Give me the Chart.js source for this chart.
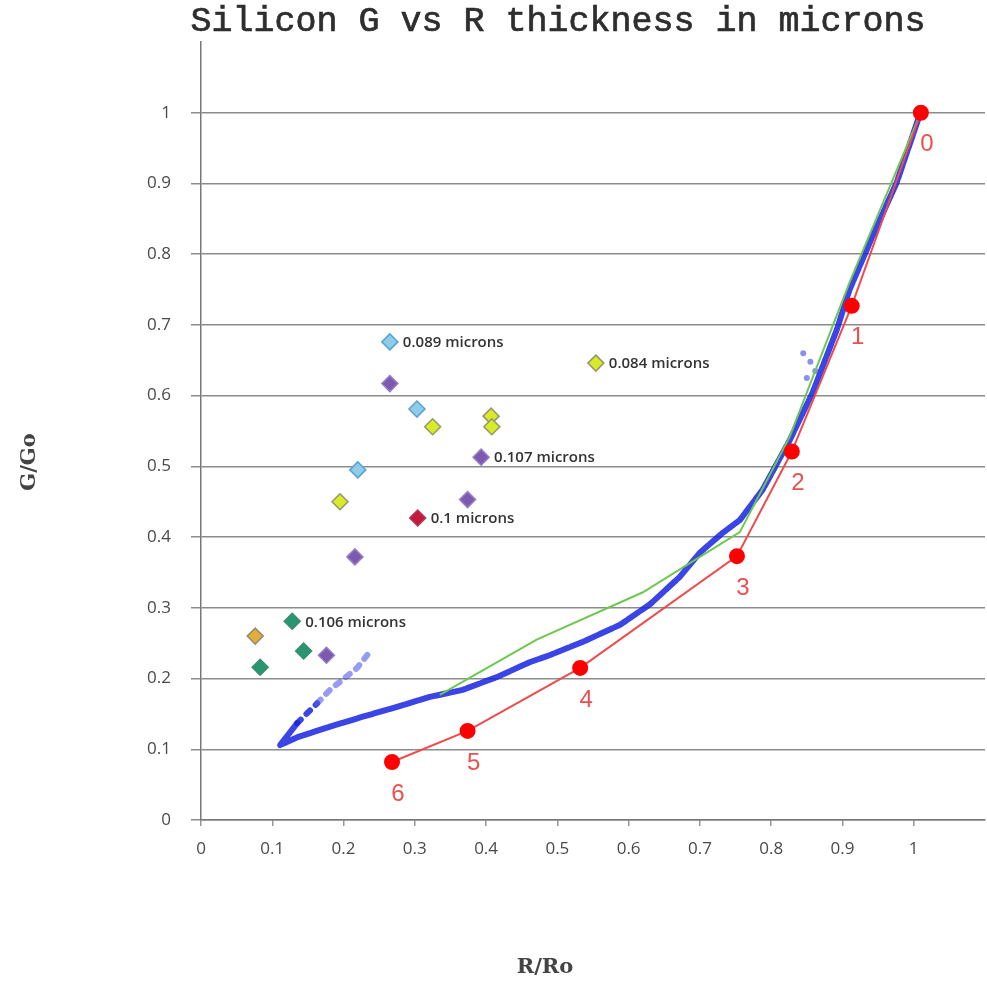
<!DOCTYPE html>
<html>
<head>
<meta charset="utf-8">
<script src="https://cdn.jsdelivr.net/npm/chart.js@4"></script>
<style>
  html, body { margin: 0; padding: 0; background: #fff; overflow: hidden; }
  #wrap { width: 987px; height: 986px; }
  canvas { display: block; }
</style>
</head>
<body>
<div id="wrap"><canvas id="chart-1" width="987" height="986"></canvas></div>
<script>
// Silicon G vs R

// measured curve (blue), from top right down to the tip then the small hook
const blueX = [1.006, 0.976, 0.942, 0.910, 0.892, 0.858, 0.826, 0.788, 0.756, 0.732, 0.700, 0.672, 0.630, 0.588, 0.536, 0.489, 0.461, 0.415, 0.367, 0.321, 0.275, 0.227, 0.181, 0.135, 0.111, 0.135, 0.163, 0.181, 0.219, 0.237];
const blueY = [0.990, 0.901, 0.825, 0.750, 0.693, 0.604, 0.537, 0.467, 0.424, 0.406, 0.378, 0.344, 0.305, 0.276, 0.252, 0.233, 0.223, 0.202, 0.184, 0.174, 0.160, 0.146, 0.132, 0.117, 0.106, 0.137, 0.165, 0.184, 0.215, 0.238];
const blueTip = 24;
const blueStrayX = [0.845, 0.855, 0.862, 0.850];
const blueStrayY = [0.660, 0.648, 0.635, 0.625];

// green model line
const greenX = [0.335, 0.471, 0.620, 0.756, 0.826, 0.910, 1.010];
const greenY = [0.177, 0.255, 0.322, 0.407, 0.542, 0.760, 1.000];

// red numbered points
const redX = [1.010, 0.913, 0.829, 0.752, 0.532, 0.374, 0.268];
const redY = [1.000, 0.727, 0.521, 0.373, 0.215, 0.126, 0.082];
const redLabels = ['0', '1', '2', '3', '4', '5', '6'];

// thickness series (diamonds)
const lightBlueX = [0.265, 0.303, 0.220];
const lightBlueY = [0.676, 0.581, 0.495];
const purpleX = [0.265, 0.393, 0.374, 0.216, 0.176];
const purpleY = [0.617, 0.513, 0.453, 0.372, 0.233];
const yellowX = [0.554, 0.407, 0.408, 0.325, 0.195];
const yellowY = [0.646, 0.571, 0.556, 0.556, 0.450];
const crimsonX = [0.304];
const crimsonY = [0.427];
const tealX = [0.128, 0.083, 0.144];
const tealY = [0.281, 0.216, 0.239];
const orangeX = [0.076];
const orangeY = [0.260];

const seriesNames = ['0.089 microns', '0.107 microns', '0.084 microns', '0.1 microns', '0.106 microns', ''];

const xTicks = [0, 0.1, 0.2, 0.3, 0.4, 0.5, 0.6, 0.7, 0.8, 0.9, 1];
const yTicks = [0, 0.1, 0.2, 0.3, 0.4, 0.5, 0.6, 0.7, 0.8, 0.9, 1];

function pts(xs, ys) {
    return xs.map(function(x, i) { return {x: x, y: ys[i]}; });
}

function diamond(label, xs, ys, fill, border) {
    return {
        label: label,
        data: pts(xs, ys),
        showLine: false,
        pointStyle: 'rectRot',
        pointRadius: 8,
        pointBackgroundColor: fill,
        pointBorderColor: border,
        pointBorderWidth: 1.5
    };
}

// no extra margins from the scales, the plot box is set by hand
function noPadding() {
    return {left: 0, right: 0, top: 0, bottom: 0};
}

// texts that sit outside the plot
const textPlugin = {
    id: 'texts',
    afterDraw: function(chart) {
        const c = chart.ctx;
        c.save();
        c.fillStyle = '#2e2e2e';
        c.strokeStyle = '#2e2e2e';
        c.lineWidth = 0.7;
        c.textAlign = 'center';
        c.textBaseline = 'middle';
        c.font = '35px "Liberation Mono"';
        c.fillText('Silicon G vs R thickness in microns', 558, 22);
        c.strokeText('Silicon G vs R thickness in microns', 558, 22);

        c.font = 'bold 21px "DejaVu Serif"';
        c.fillStyle = '#444';
        c.fillText('R/Ro', 545, 968);

        c.translate(30, 462);
        c.rotate(-Math.PI / 2);
        c.fillText('G/Go', 0, 0);
        c.restore();
    }
};

// numbers under the red points and the names next to the diamonds
const labelPlugin = {
    id: 'pointLabels',
    afterDatasetsDraw: function(chart) {
        const c = chart.ctx;
        c.save();
        const red = chart.getDatasetMeta(0);
        c.font = '24px "Liberation Sans"';
        c.fillStyle = 'rgb(235, 80, 80)';
        c.textAlign = 'center';
        c.textBaseline = 'middle';
        red.data.forEach(function(el, i) {
            c.fillText(redLabels[i], el.x + 6, el.y + 32);
        });

        c.font = '600 15px "Open Sans"';
        c.fillStyle = '#333';
        c.textAlign = 'left';
        const named = [[1, 0], [2, 1], [3, 0], [4, 0], [5, 0]];
        named.forEach(function(n, k) {
            const el = chart.getDatasetMeta(n[0]).data[n[1]];
            if (seriesNames[k]) {
                c.fillText(seriesNames[k], el.x + 13, el.y + 1);
            }
        });
        c.restore();
    }
};

const gridCol = function(ctx) {
    return ctx.tick && ctx.tick.value > 1.05 ? 'rgba(0,0,0,0)' : 'rgb(140,140,140)';
};

const chart1 = new Chart(document.getElementById('chart-1'), {
    type: 'scatter',
    data: {
        datasets: [
            {
                label: 'steps',
                data: pts(redX, redY),
                showLine: true,
                borderColor: 'rgb(240, 75, 75)',
                borderWidth: 2,
                pointRadius: 7,
                pointBackgroundColor: 'rgb(255, 0, 0)',
                pointBorderColor: 'rgb(255, 0, 0)'
            },
            diamond('0.089', lightBlueX, lightBlueY, 'rgb(140, 205, 235)', 'rgb(95, 160, 205)'),
            diamond('0.107', purpleX, purpleY, 'rgb(125, 90, 175)', 'rgb(150, 125, 195)'),
            diamond('0.084', yellowX, yellowY, 'rgb(215, 235, 40)', 'rgb(150, 150, 110)'),
            diamond('0.1', crimsonX, crimsonY, 'rgb(200, 25, 60)', 'rgb(170, 60, 90)'),
            diamond('0.106', tealX, tealY, 'rgb(40, 150, 110)', 'rgb(60, 140, 115)'),
            diamond('other', orangeX, orangeY, 'rgb(225, 175, 55)', 'rgb(150, 140, 120)'),
            {
                label: 'model',
                data: pts(greenX, greenY),
                showLine: true,
                borderColor: 'rgb(110, 200, 80)',
                borderWidth: 2,
                pointRadius: 0
            },
            {
                label: 'stray',
                data: pts(blueStrayX, blueStrayY),
                showLine: false,
                pointRadius: 3,
                pointBackgroundColor: 'rgba(60, 70, 235, 0.6)',
                pointBorderWidth: 0
            },
            {
                label: 'measured',
                data: pts(blueX, blueY),
                showLine: true,
                borderColor: 'rgba(25, 35, 225, 0.85)',
                borderWidth: 6,
                borderDash: [14, 2],
                borderCapStyle: 'round',
                borderJoinStyle: 'round',
                pointRadius: 0,
                segment: {
                    borderDash: function(ctx) { return ctx.p0DataIndex >= blueTip + 1 ? [5, 8] : undefined; },
                    borderColor: function(ctx) { return ctx.p0DataIndex >= blueTip + 2 ? 'rgba(80, 90, 235, 0.6)' : undefined; }
                }
            }
        ]
    },
    options: {
        responsive: false,
        animation: false,
        layout: { autoPadding: false, padding: { top: 42, right: 2, left: 0, bottom: 0 } },
        plugins: {
            legend: { display: false },
            tooltip: { enabled: false }
        },
        scales: {
            x: {
                type: 'linear',
                min: 0,
                max: 1.1,
                afterFit: function(s) { s.height = 166; s.getPadding = noPadding; },
                afterBuildTicks: function(s) { s.ticks = xTicks.map(function(v) { return {value: v}; }); },
                ticks: {
                    padding: 13,
                    color: '#4a4a4a',
                    font: { family: '"Open Sans"', size: 17 },
                    callback: function(v) { return String(Math.round(v * 10) / 10); }
                },
                grid: { drawOnChartArea: false, drawTicks: true, tickLength: 6, color: 'rgb(150,150,150)', lineWidth: 1.5 },
                border: { color: 'rgb(120,120,120)', width: 1.5 }
            },
            y: {
                type: 'linear',
                min: 0,
                max: 1.1,
                afterFit: function(s) { s.width = 201; s.getPadding = noPadding; },
                afterBuildTicks: function(s) { s.ticks = yTicks.map(function(v) { return {value: v}; }); },
                ticks: {
                    padding: 20,
                    color: '#4a4a4a',
                    font: { family: '"Open Sans"', size: 17 },
                    callback: function(v) { return String(Math.round(v * 10) / 10); }
                },
                grid: { color: gridCol, lineWidth: 1.5, drawTicks: true, tickLength: 10 },
                border: { color: 'rgb(120,120,120)', width: 1.5 }
            }
        }
    },
    plugins: [textPlugin, labelPlugin]
});
</script>
</body>
</html>
